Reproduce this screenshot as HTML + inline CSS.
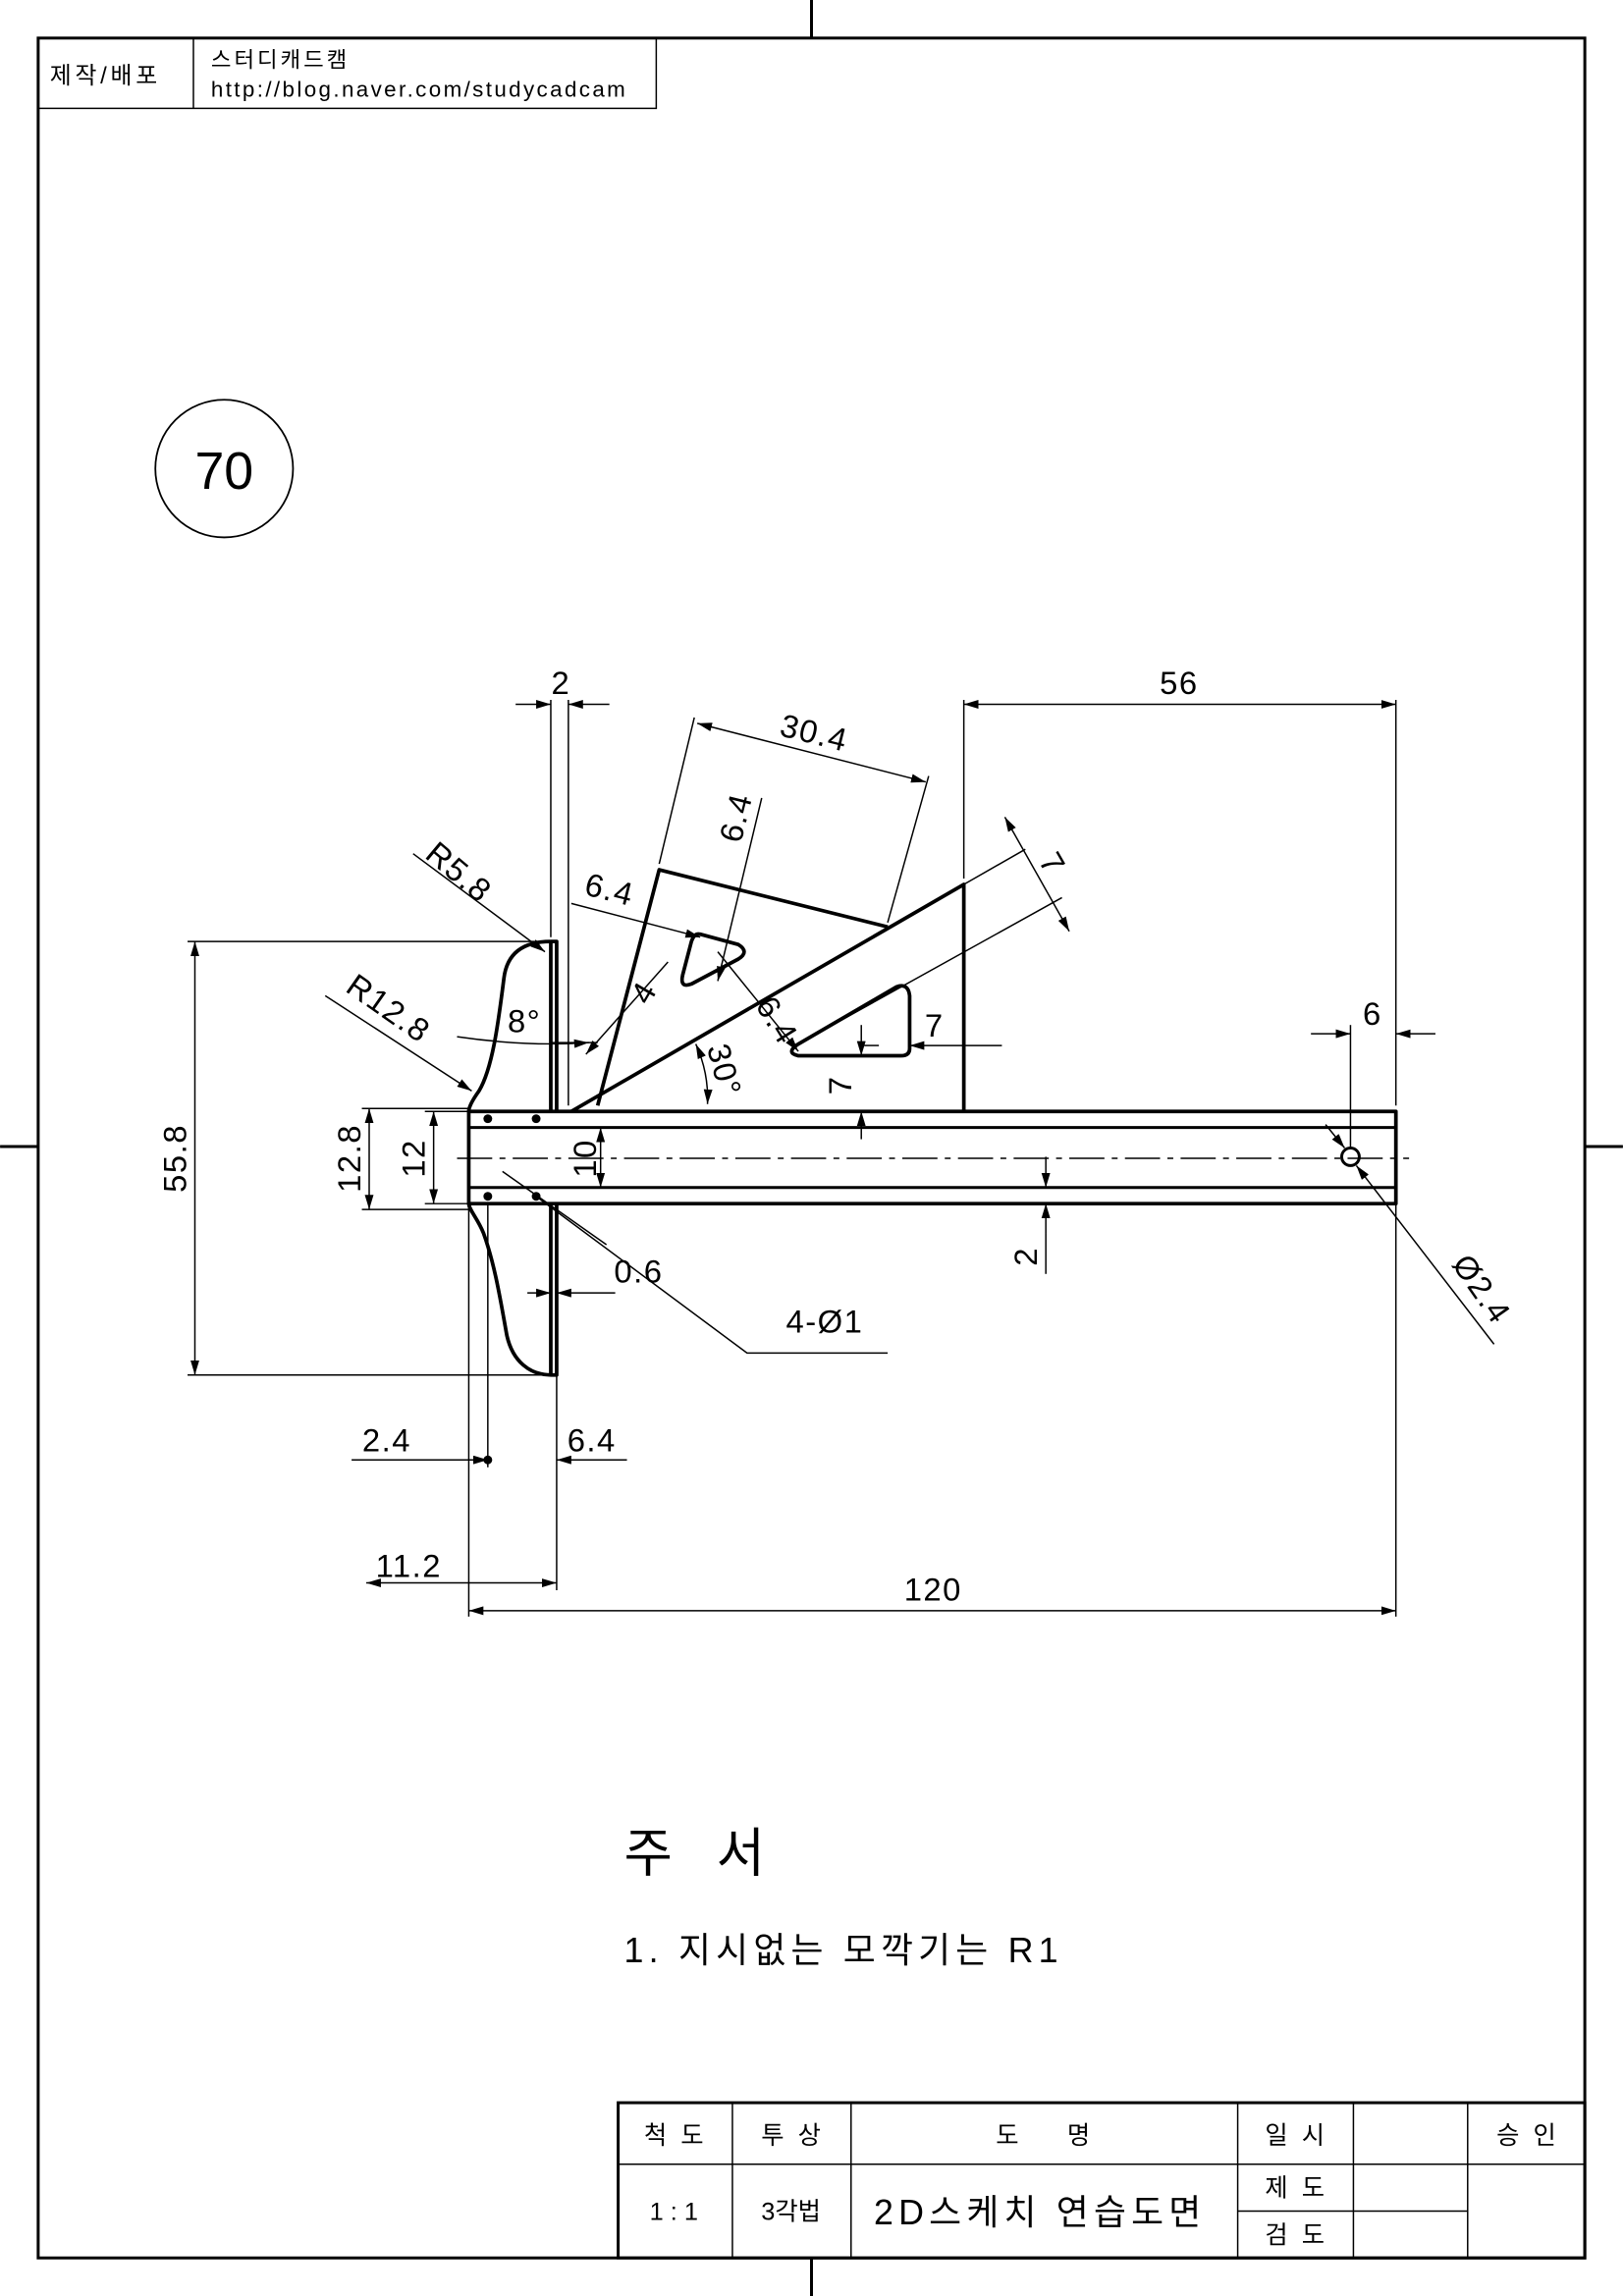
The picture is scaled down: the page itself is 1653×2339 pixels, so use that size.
<!DOCTYPE html>
<html><head><meta charset="utf-8">
<style>
html,body{margin:0;padding:0;background:#fff;}
svg{display:block;}
text{font-family:"Liberation Sans","Noto Sans CJK KR",sans-serif;fill:#000;}
</style></head>
<body>
<svg width="1653" height="2339" viewBox="0 0 1108 1568" xmlns="http://www.w3.org/2000/svg">
<defs>
<marker id="a" markerWidth="10" markerHeight="6" refX="10" refY="3" orient="auto-start-reverse" markerUnits="userSpaceOnUse">
<path d="M0,0 L10,3 L0,6 z" fill="#000"/></marker>
</defs>
<rect width="1108" height="1568" fill="#fff"/>
<g stroke="#000" fill="none">
<rect x="26" y="26" width="1056" height="1516" stroke-width="2"/>
<line x1="554" y1="0" x2="554" y2="26" stroke-width="2"/>
<line x1="554" y1="1542" x2="554" y2="1568" stroke-width="2"/>
<line x1="0" y1="783" x2="26" y2="783" stroke-width="2"/>
<line x1="1082" y1="783" x2="1108" y2="783" stroke-width="2"/>
<rect x="26" y="26" width="422" height="48" stroke-width="1"/>
<line x1="132" y1="26" x2="132" y2="74" stroke-width="1"/>
<circle cx="153" cy="320" r="47" stroke-width="1.2"/>
<rect x="422" y="1436" width="660" height="106" stroke-width="2"/>
<line x1="422" y1="1478" x2="1082" y2="1478" stroke-width="1"/>
<line x1="500" y1="1436" x2="500" y2="1542"/>
<line x1="581" y1="1436" x2="581" y2="1542"/>
<line x1="845" y1="1436" x2="845" y2="1542"/>
<line x1="924" y1="1436" x2="924" y2="1542"/>
<line x1="1002" y1="1436" x2="1002" y2="1542"/>
<line x1="845" y1="1510" x2="1002" y2="1510"/>
</g>
<text x="34" y="57" font-size="16" letter-spacing="2.5">제작/배포</text>
<text x="144" y="46" font-size="15" letter-spacing="2">스터디캐드캠</text>
<text x="144" y="66" font-size="15" letter-spacing="1.6">http://blog.naver.com/studycadcam</text>
<text x="153" y="334" font-size="36" text-anchor="middle">70</text>
<g font-size="17" text-anchor="middle">
<text x="460" y="1464">척 &#160;도</text>
<text x="540" y="1464">투 &#160;상</text>
<text x="712" y="1464">도 &#160;&#160;&#160;&#160;&#160; 명</text>
<text x="884" y="1464">일 &#160;시</text>
<text x="1042" y="1464">승 &#160;인</text>
<text x="460" y="1516">1 : 1</text>
<text x="540" y="1516">3각법</text>
<text x="710" y="1519" font-size="24" letter-spacing="3.5">2D스케치 연습도면</text>
<text x="884" y="1500">제 &#160;도</text>
<text x="884" y="1532">검 &#160;도</text>
</g>
<text x="426" y="1278" font-size="36">주 &#160;&#160;서</text>
<text x="426" y="1340" font-size="24" letter-spacing="3.5">1. 지시없는 모깍기는 R1</text>

<g stroke="#000" fill="none" stroke-width="2.5" stroke-linejoin="round">
<rect x="320" y="759" width="633" height="63"/>
<line x1="320" y1="770" x2="953" y2="770" stroke-width="2"/>
<line x1="320" y1="811" x2="953" y2="811" stroke-width="2"/>
<path d="M376,643 L380,643 L380,759 M380,822 L380,939 L376,939 M376,643 L376,759 M376,822 L376,939"/>
<path d="M376,643 C356,643 346,652 344,668 C340,700 336,730 327,745 C322,752 320,756 320,759"/>
<path d="M320,822 C320,826 326,832 330,842 C338,864 342,890 346,912 C350,930 362,939 376,939"/>
<path d="M390,759 L658,604 L658,759"/>
<path d="M408,755 L450,594 L606,633"/>
<path d="M478,638 L504,645 Q512,650 504,655 L472,672 Q464,675 466,666 L472,643 Q474,637 478,638 z"/>
<path d="M545,713 L612,674 Q620,671 621,680 L621,716 Q621,721 615,721 L545,721 Q536,719 545,713 z"/>
<circle cx="922" cy="790" r="6" stroke-width="2"/>
</g>
<g fill="#000">
<circle cx="333" cy="764" r="3"/><circle cx="366" cy="764" r="3"/>
<circle cx="333" cy="817" r="3"/><circle cx="366" cy="817" r="3"/>
<circle cx="333" cy="997" r="3"/>
</g>
<line x1="312" y1="791" x2="962" y2="791" stroke="#000" stroke-width="1" stroke-dasharray="24,5,4,5"/>

<g stroke="#000" stroke-width="1" fill="none">
<line x1="376" y1="478" x2="376" y2="640"/><line x1="388" y1="478" x2="388" y2="755"/>
<line x1="352" y1="481" x2="376" y2="481" marker-end="url(#a)"/><line x1="416" y1="481" x2="388" y2="481" marker-end="url(#a)"/>
<line x1="658" y1="478" x2="658" y2="600"/><line x1="953" y1="478" x2="953" y2="755"/>
<line x1="658" y1="481" x2="953" y2="481" marker-start="url(#a)" marker-end="url(#a)"/>
<line x1="450" y1="590" x2="474" y2="490"/><line x1="606" y1="630" x2="634" y2="530"/>
<line x1="476" y1="494" x2="632" y2="534" marker-start="url(#a)" marker-end="url(#a)"/>
<line x1="520" y1="545" x2="490" y2="670" marker-end="url(#a)"/>
<line x1="390" y1="617" x2="478" y2="640" marker-end="url(#a)"/>
<line x1="456" y1="657" x2="400" y2="720" marker-end="url(#a)"/>
<line x1="490" y1="650" x2="545" y2="718" marker-end="url(#a)"/>
<line x1="658" y1="604" x2="700" y2="580"/><line x1="545" y1="713" x2="725" y2="613"/>
<line x1="686" y1="558" x2="730" y2="636" marker-start="url(#a)" marker-end="url(#a)"/>
<line x1="684" y1="714" x2="621" y2="714" marker-end="url(#a)"/><line x1="590" y1="714" x2="600" y2="714"/>
<line x1="588" y1="700" x2="588" y2="721" marker-end="url(#a)"/><line x1="588" y1="778" x2="588" y2="759" marker-end="url(#a)"/>
<path d="M475,713 A90,90 0 0 1 483,754" marker-start="url(#a)" marker-end="url(#a)"/>
<path d="M312,708 Q360,715 402,712" marker-end="url(#a)"/><line x1="376" y1="712" x2="408" y2="712"/>
<line x1="282" y1="583" x2="372" y2="650" marker-end="url(#a)"/>
<line x1="222" y1="680" x2="322" y2="745" marker-end="url(#a)"/>
<line x1="128" y1="643" x2="372" y2="643"/><line x1="128" y1="939" x2="376" y2="939"/>
<line x1="133" y1="643" x2="133" y2="939" marker-start="url(#a)" marker-end="url(#a)"/>
<line x1="247" y1="757" x2="320" y2="757"/><line x1="247" y1="826" x2="320" y2="826"/>
<line x1="252" y1="757" x2="252" y2="826" marker-start="url(#a)" marker-end="url(#a)"/>
<line x1="290" y1="759" x2="320" y2="759"/><line x1="290" y1="822" x2="320" y2="822"/>
<line x1="296" y1="759" x2="296" y2="822" marker-start="url(#a)" marker-end="url(#a)"/>
<line x1="410" y1="770" x2="410" y2="811" marker-start="url(#a)" marker-end="url(#a)"/>
<line x1="714" y1="790" x2="714" y2="811" marker-end="url(#a)"/><line x1="714" y1="842" x2="714" y2="822" marker-end="url(#a)"/><line x1="714" y1="842" x2="714" y2="870"/>
<line x1="922" y1="700" x2="922" y2="784"/>
<line x1="895" y1="706" x2="922" y2="706" marker-end="url(#a)"/><line x1="980" y1="706" x2="953" y2="706" marker-end="url(#a)"/>
<line x1="905" y1="768" x2="918" y2="784" marker-end="url(#a)"/><line x1="1020" y1="918" x2="926" y2="796" marker-end="url(#a)"/>
<line x1="343" y1="800" x2="414" y2="850"/>
<line x1="360" y1="883" x2="376" y2="883" marker-end="url(#a)"/><line x1="420" y1="883" x2="380" y2="883" marker-end="url(#a)"/>
<polyline points="366,817 510,924 606,924"/>
<line x1="320" y1="822" x2="320" y2="1104"/><line x1="333" y1="822" x2="333" y2="1002"/>
<line x1="380" y1="939" x2="380" y2="1086"/><line x1="953" y1="822" x2="953" y2="1104"/>
<line x1="240" y1="997" x2="333" y2="997" marker-end="url(#a)"/><line x1="428" y1="997" x2="380" y2="997" marker-end="url(#a)"/>
<line x1="250" y1="1081" x2="380" y2="1081" marker-start="url(#a)" marker-end="url(#a)"/>
<line x1="320" y1="1100" x2="953" y2="1100" marker-start="url(#a)" marker-end="url(#a)"/>
</g>

<g font-size="22" letter-spacing="1">
<text x="383" y="474" text-anchor="middle">2</text>
<text x="805" y="474" text-anchor="middle">56</text>
<text x="556" y="508" text-anchor="middle" transform="rotate(14 556 500)">30.4</text>
<text x="508" y="574" text-anchor="middle" transform="rotate(-76 500 566)">6.4</text>
<text x="416" y="615" text-anchor="middle" transform="rotate(14 416 608)">6.4</text>
<text x="440" y="685" text-anchor="middle" transform="rotate(-60 440 678)">4</text>
<text x="530" y="704" text-anchor="middle" transform="rotate(58 530 697)">6.4</text>
<text x="718" y="597" text-anchor="middle" transform="rotate(60 718 590)">7</text>
<text x="638" y="708" text-anchor="middle">7</text>
<text x="574" y="748" text-anchor="middle" transform="rotate(-90 574 741)">7</text>
<text x="494" y="738" text-anchor="middle" transform="rotate(75 494 731)">30°</text>
<text x="358" y="705" text-anchor="middle">8°</text>
<text x="313" y="603" text-anchor="middle" transform="rotate(40 313 596)">R5.8</text>
<text x="265" y="696" text-anchor="middle" transform="rotate(35 265 689)">R12.8</text>
<text x="119" y="799" text-anchor="middle" transform="rotate(-90 119 791)">55.8</text>
<text x="238" y="799" text-anchor="middle" transform="rotate(-90 238 791)">12.8</text>
<text x="282" y="799" text-anchor="middle" transform="rotate(-90 282 791)">12</text>
<text x="399" y="799" text-anchor="middle" transform="rotate(-90 399 791)">10</text>
<text x="700" y="866" text-anchor="middle" transform="rotate(-90 700 858)">2</text>
<text x="937" y="700" text-anchor="middle">6</text>
<text x="1012" y="888" text-anchor="middle" transform="rotate(55 1012 880)">Ø2.4</text>
<text x="436" y="876" text-anchor="middle">0.6</text>
<text x="563" y="910" text-anchor="middle">4-Ø1</text>
<text x="264" y="991" text-anchor="middle">2.4</text>
<text x="404" y="991" text-anchor="middle">6.4</text>
<text x="279" y="1077" text-anchor="middle">11.2</text>
<text x="637" y="1093" text-anchor="middle">120</text>
</g>
</svg>
</body></html>
